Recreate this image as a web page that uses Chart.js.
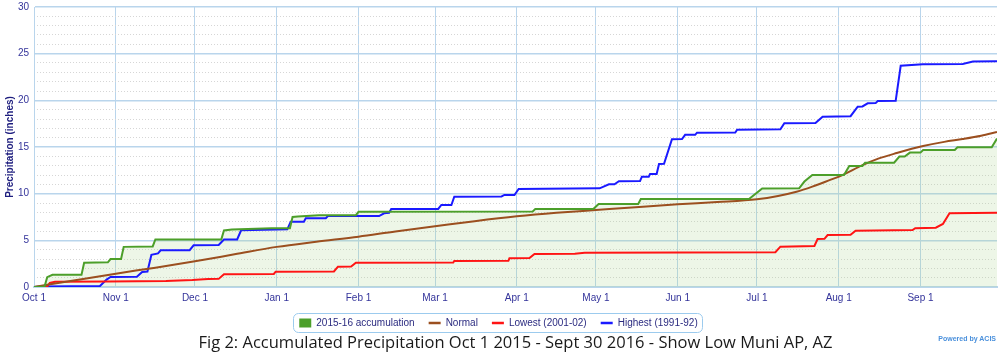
<!DOCTYPE html>
<html><head><meta charset="utf-8">
<script src="https://cdn.jsdelivr.net/npm/chart.js@4.4.0/dist/chart.umd.min.js"></script>
<style>
html,body{margin:0;padding:0;background:#fff;}
#wrap{position:relative;width:1000px;height:355px;}
#acis{position:absolute;right:4px;top:335px;font:bold 7px "Liberation Sans",Arial,sans-serif;color:#4a90dc;white-space:nowrap;}
</style>
</head><body>
<div id="wrap"><canvas id="c" width="1000" height="355"></canvas><div id="acis">Powered by ACIS</div></div>
<script>
// ---- data (days since Oct 1 2015, accumulated inches) ----
const monthDays=[0,31,61,92,123,152,183,213,244,274,305,336];
const monthLabels=['Oct 1','Nov 1','Dec 1','Jan 1','Feb 1','Mar 1','Apr 1','May 1','Jun 1','Jul 1','Aug 1','Sep 1'];
const yTicks=[0,5,10,15,20,25,30];
const seriesNames=['2015-16 accumulation','Normal','Lowest (2001-02)','Highest (1991-92)'];

const accumDays=[0,4,5,7,18,19,28,29,33,34,45,46,71,72,75,90,97,98,100,108,122,123,189,190,212,214,229,230,271,276,290,292,295,307,309,314,315,326,328,330,332,336,337,349,350,363,365];
const accumVals=[0,0.05,1.05,1.3,1.3,2.6,2.65,3.0,3.0,4.3,4.35,5.1,5.1,6.05,6.15,6.3,6.3,7.5,7.55,7.7,7.7,8.05,8.1,8.35,8.35,8.9,8.9,9.43,9.43,10.55,10.57,11.3,12.0,12.0,12.97,12.97,13.32,13.32,13.97,13.97,14.4,14.4,14.68,14.68,14.97,14.97,15.9];

const normalDays=[0,15,31,46,61,76,92,107,123,137,152,167,183,198,213,228,244,259,274,282,289,295,302,306,314,320,327,337,345,352,359,365];
const normalVals=[0,0.7,1.43,2.07,2.75,3.5,4.3,4.85,5.39,5.95,6.5,7.05,7.57,7.95,8.25,8.55,8.86,9.1,9.4,9.75,10.2,10.75,11.5,11.93,13.05,13.75,14.35,15.1,15.55,15.85,16.2,16.6];

const lowDays=[0,5,6,8,28,50,60,66,70,72,90.9,91.6,113.7,115.2,120.2,122,158.9,159.3,179.8,180.2,187.8,189.7,205,208.7,281,282.9,295.8,297,299.6,300.8,309.5,311.4,333,334,341.8,344.5,347,365];
const lowVals=[0,0.05,0.43,0.55,0.6,0.65,0.75,0.85,0.87,1.37,1.4,1.64,1.66,2.18,2.2,2.6,2.62,2.79,2.8,3.07,3.1,3.54,3.56,3.68,3.72,4.32,4.4,5.14,5.16,5.57,5.6,6.04,6.1,6.29,6.35,6.75,7.9,7.95];

const highDays=[0,3,25,27.5,29,39,41,43,44.5,47,48,59,60.5,70,72,77,78.5,96,97.3,102.3,103,110.6,111.4,130.8,132.7,134.6,135.4,153.2,154.4,158.2,159.3,177.2,178.3,182.1,183.7,214.4,217.9,220,221.7,229.7,230.4,233,233.5,236,236.9,238.8,241.8,245.6,246.8,250.6,251.3,265.8,266.5,282.9,284.4,296.2,298.9,309.5,312.2,314,316,319,319.8,326.6,328.5,336.9,352,355.9,365];
const highVals=[0,0.05,0.1,0.8,1.07,1.1,1.6,1.65,3.45,3.6,3.93,3.95,4.47,4.5,5.08,5.1,6.08,6.18,7.0,7.0,7.36,7.36,7.6,7.6,7.9,7.95,8.36,8.36,8.79,8.79,9.68,9.7,9.86,9.86,10.5,10.57,11.0,11.0,11.33,11.35,11.82,11.82,12.1,12.1,13.18,13.2,15.83,15.85,16.3,16.3,16.54,16.56,16.85,16.9,17.54,17.56,18.25,18.3,19.32,19.35,19.68,19.7,19.93,19.95,23.7,23.86,23.9,24.15,24.2];

function pts(d,v){return d.map((x,i)=>({x:x,y:v[i]}));}

const GRID='#b9d5ec', MINOR='#d6d6d6', NAVY='#33339a';
const legendBox={id:'legendBox',afterDraw(chart){
  const hb=chart.legend.legendHitBoxes; if(!hb||!hb.length)return;
  let l=Infinity,r=-Infinity,t=Infinity,b=-Infinity;
  hb.forEach(h=>{l=Math.min(l,h.left);r=Math.max(r,h.left+h.width);t=Math.min(t,h.top);b=Math.max(b,h.top+h.height);});
  const ctx=chart.ctx;ctx.save();ctx.strokeStyle='#9ccbee';ctx.lineWidth=1;
  ctx.beginPath();ctx.roundRect(Math.round(l-6)+0.5,Math.round(t-5)+0.5,Math.round(r-l+11),Math.round(b-t+9),5);ctx.stroke();ctx.restore();
}};

new Chart(document.getElementById('c'),{
  type:'line',
  data:{datasets:[
    {label:seriesNames[0],data:pts(accumDays,accumVals),borderColor:'#4c9f2a',backgroundColor:'rgba(175,212,145,0.22)',fill:'origin',borderWidth:2,pointRadius:0,tension:0},
    {label:seriesNames[1],data:pts(normalDays,normalVals),borderColor:'#9b4f1f',borderWidth:2,pointRadius:0,cubicInterpolationMode:'monotone',fill:false},
    {label:seriesNames[2],data:pts(lowDays,lowVals),borderColor:'#ff1414',borderWidth:2,pointRadius:0,tension:0,fill:false},
    {label:seriesNames[3],data:pts(highDays,highVals),borderColor:'#1a1aff',borderWidth:2,pointRadius:0,tension:0,fill:false}
  ]},
  options:{
    responsive:false,animation:false,
    layout:{padding:{left:0,right:3,top:0,bottom:0}},
    scales:{
      x:{type:'linear',min:0,max:365,
        afterBuildTicks:s=>{s.ticks=monthDays.map(v=>({value:v}));},
        afterFit:s=>{s.height=17;},
        ticks:{autoSkip:false,maxRotation:0,padding:5,color:NAVY,font:{family:'"Liberation Sans",Arial,sans-serif',size:10},
          callback:v=>monthLabels[monthDays.indexOf(v)]},
        grid:{color:GRID,lineWidth:1,drawTicks:false},
        border:{color:GRID,width:2}},
      y:{min:0,max:30,
        afterBuildTicks:s=>{s.ticks=yTicks.map(v=>({value:v}));},
        afterFit:s=>{s.width=34;s.paddingTop=7;},
        ticks:{padding:5,color:NAVY,font:{family:'"Liberation Sans",Arial,sans-serif',size:10}},
        title:{display:true,text:'Precipitation (inches)',color:'#1d1d7e',font:{family:'"Liberation Sans",Arial,sans-serif',size:10,weight:'bold'},padding:{top:4,bottom:0}},
        grid:{color:GRID,lineWidth:1.5,drawTicks:false},
        border:{color:GRID,width:1}},
      yMinor:{position:'right',min:0,max:30,
        ticks:{display:false,stepSize:1},
        afterFit:s=>{s.width=0;s.paddingTop=0;},
        grid:{drawTicks:false,color:c=>(c.tick&&c.tick.value%5===0)?'rgba(0,0,0,0)':MINOR,lineWidth:1},
        border:{display:false,dash:[1,2]}}
    },
    plugins:{
      filler:{drawTime:'beforeDatasetsDraw'},
      tooltip:{enabled:false},
      legend:{position:'bottom',
        labels:{usePointStyle:true,pointStyleWidth:12,boxHeight:9,padding:14,color:'#2b2b80',
          font:{family:'"Liberation Sans",Arial,sans-serif',size:10},
          generateLabels:chart=>chart.data.datasets.map((ds,i)=>({text:ds.label,fillStyle:ds.borderColor,strokeStyle:ds.borderColor,
            lineWidth:i===0?0:2.5,pointStyle:i===0?'rect':'line',hidden:false,datasetIndex:i,fontColor:'#2b2b80'}))}},
      title:{display:true,position:'bottom',fullSize:false,text:'Fig 2: Accumulated Precipitation Oct 1 2015 - Sept 30 2016 - Show Low Muni AP, AZ',
        color:'#1a1a1a',font:{family:'"Open Sans",sans-serif',size:16.5,weight:'normal'},padding:{top:-4.5,bottom:1.7}}
    }
  },
  plugins:[legendBox]
});
</script>
</body></html>
